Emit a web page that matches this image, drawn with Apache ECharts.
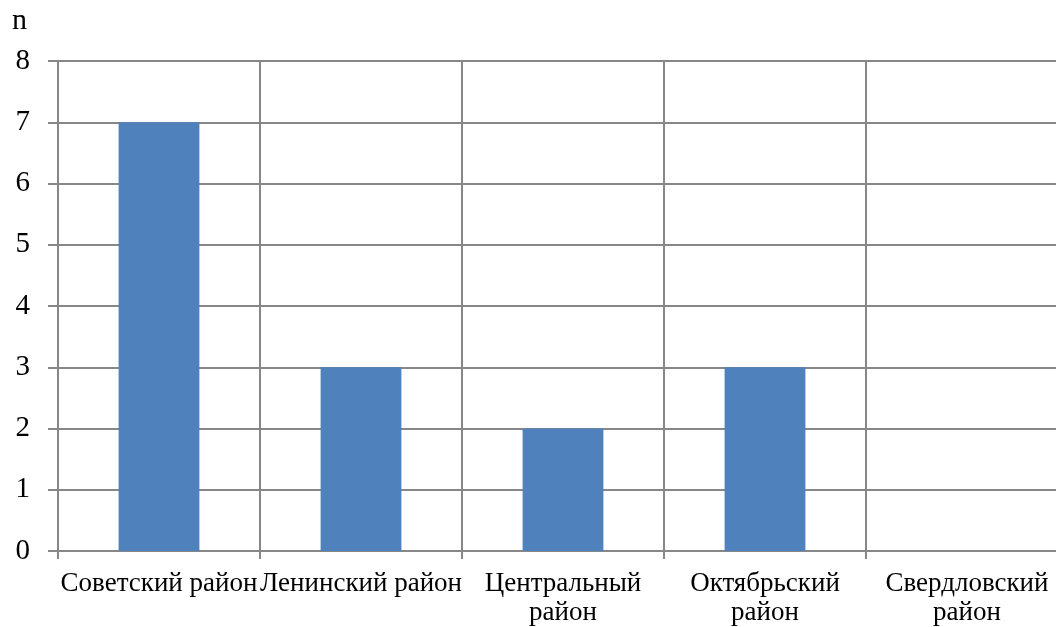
<!DOCTYPE html>
<html><head><meta charset="utf-8">
<script src="https://cdn.jsdelivr.net/npm/echarts@6/dist/echarts.min.js"></script>
<style>html,body{margin:0;padding:0;background:#fff;overflow:hidden}#c{width:1072px;height:627px}</style>
</head><body><div id="c"></div>
<script>
const categories = ['Советский район', 'Ленинский район', 'Центральный\nрайон', 'Октябрьский\nрайон', 'Свердловский\nрайон'];
const values = [7, 3, 2, 3, 0];
const yTicks = { min: 0, max: 8, interval: 1 };
const yName = 'n';

const font = '"Liberation Serif", "DejaVu Serif", serif';
const grey = '#878787';
const chart = echarts.init(document.getElementById('c'));
chart.setOption({
  animation: false,
  backgroundColor: '#fff',
  title: { text: yName, left: 7, top: 1, textStyle: { fontFamily: font, fontSize: 30, fontWeight: 'normal', color: '#000' } },
  grid: { left: 58, right: 4, top: 61, bottom: 75, containLabel: false },
  xAxis: {
    type: 'category', data: categories,
    axisLine: { lineStyle: { color: grey, width: 2 } },
    axisTick: { show: true, length: 8, lineStyle: { color: grey, width: 2 } },
    splitLine: { show: true, lineStyle: { color: grey, width: 2 } },
    axisLabel: { fontFamily: font, fontSize: 27, color: '#000', margin: 18, lineHeight: 29, interval: 0 }
  },
  yAxis: {
    type: 'value', min: yTicks.min, max: yTicks.max, interval: yTicks.interval,
    axisLine: { show: true, lineStyle: { color: grey, width: 2 } },
    axisTick: { show: true, length: 10, lineStyle: { color: grey, width: 2 } },
    splitLine: { show: true, lineStyle: { color: grey, width: 2 } },
    axisLabel: { fontFamily: font, fontSize: 29, color: '#000', margin: 28 }
  },
  series: [{ type: 'bar', data: values, barWidth: '40%', itemStyle: { color: '#4F81BD' } }]
});
</script></body></html>
